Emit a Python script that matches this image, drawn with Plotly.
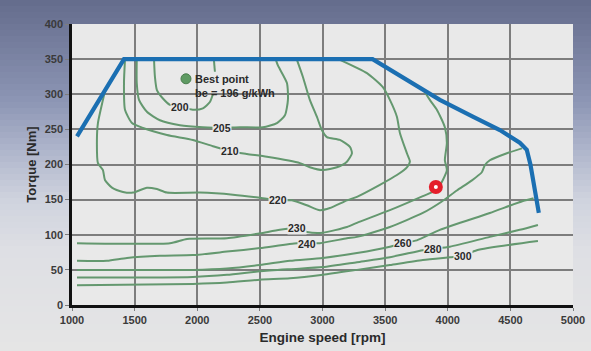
import plotly.graph_objects as go

# ---------------- data ----------------
full_load_rpm = [1040, 1415, 3400, 3937, 4200, 4416, 4575, 4631, 4660, 4695, 4727]
full_load_nm = [240, 350, 350, 292, 268, 249, 231, 221, 200, 168, 131]

c200_rpm = [1655, 1662, 1678, 1726, 1782, 1862, 1965, 2045, 2101, 2125, None, 2141, 2133]
c200_nm = [349, 325, 306, 294, 285, 282, 278, 280, 289, 300, None, 332, 349]

c205_rpm = [1517, 1517, 1535, 1598, 1702, 1862, 2045, 2197, 2341, 2524, 2636, 2700, 2724, 2716, 2644, 2628]
c205_nm = [349, 316, 292, 275, 263, 256, 253, 252, 253, 253, 259, 270, 292, 316, 341, 349]

c210_rpm = [1423, 1415, 1423, 1479, 1567, 1758, 1965, 2125, 2261, 2397, 2556, 2820, 2899, 3003,
            3115, 3195, 3235, 3219, 3139, 3035, 2995, 2955, 2899, 2843, 2796]
c210_nm = [349, 316, 278, 259, 252, 242, 235, 226, 219, 215, 211, 202, 196, 192,
           196, 204, 216, 225, 235, 239, 249, 268, 292, 325, 349]

c220_rpm = [1265, 1247, 1207, 1199, 1207, 1247, 1263, 1319, 1407, 1487, 1598, 1678, 1758, 2021,
            2285, 2524, 2644, 2756, 2875, 2979, 3059, 3195, 3275, 3458, 3594, 3674, 3698, 3674,
            3618, 3594, 3538, 3482, 3355, 3139]
c220_nm = [306, 292, 259, 235, 202, 192, 178, 167, 161, 160, 167, 165, 160, 160,
           157, 152, 149, 149, 142, 135, 138, 149, 154, 171, 185, 196, 204, 216,
           245, 268, 292, 310, 330, 349]

c230_rpm = [1040, 1782, 1918, 2237, 2500, 2660, 2796, 2875, 3003, 3195, 3275, 3538, 3801,
            3913, 3961, 3993, 3977, 3993, 3977, 3913, 3857, 3810]
c230_nm = [88, 88, 94, 95, 102, 107, 109, 104, 103, 111, 117, 135, 155,
           164, 178, 192, 206, 231, 253, 278, 292, 305]

c240_rpm = [1040, 1279, 1439, 1702, 1965, 2237, 2500, 2796, 2875, 2979, 3195, 3275, 3538,
            3801, 3950, 4073, 4190, 4272, 4296, 4336, 4472, 4592]
c240_nm = [63, 63, 67, 70, 71, 76, 81, 88, 88, 88, 95, 97, 111,
           131, 147, 163, 177, 189, 199, 206, 216, 223]

c260_rpm = [1040, 1965, 2237, 2500, 2740, 3003, 3275, 3538, 3642, 3753, 3937, 4336, 4600, 4685]
c260_nm = [50, 50, 52, 57, 63, 67, 74, 83, 88, 92, 107, 131, 148, 152]

c280_rpm = [1040, 1965, 2237, 2500, 2740, 3003, 3275, 3538, 3801, 3881, 4017, 4336, 4575, 4720]
c280_nm = [39, 40, 43, 48, 51, 54, 61, 68, 78, 80, 83, 97, 107, 114]

c300_rpm = [1040, 1965, 2237, 2500, 2740, 3003, 3275, 3538, 3801, 4017, 4120, 4232, 4720]
c300_nm = [28, 30, 32, 36, 38, 43, 50, 57, 64, 68, 70, 78, 91]

contour_labels = ["200", "205", "210", "220", "230", "240", "260", "280", "300"]
label_rpm = [1862, 2197, 2261, 2644, 2796, 2875, 3642, 3881, 4120]
label_nm = [282, 252, 219, 149, 110, 87, 88, 80, 70]

best_rpm = [1910]
best_nm = [322]
op_rpm = [3905]
op_nm = [168]

x_ticks = [1000, 1500, 2000, 2500, 3000, 3500, 4000, 4500, 5000]
y_ticks = [0, 50, 100, 150, 200, 250, 300, 350, 400]

# ---------------- figure ----------------
GREEN = "#64986f"
BLUE = "#1b6fb2"
PLOTBG = "#e9e9e9"
GRID = "#7d7d7d"
FONT = "Liberation Sans"

fig = go.Figure()

contours = [(c200_rpm, c200_nm), (c205_rpm, c205_nm), (c210_rpm, c210_nm), (c220_rpm, c220_nm),
            (c230_rpm, c230_nm), (c240_rpm, c240_nm), (c260_rpm, c260_nm), (c280_rpm, c280_nm),
            (c300_rpm, c300_nm)]
for (xs, ys), name in zip(contours, contour_labels):
    fig.add_trace(go.Scatter(x=xs, y=ys, mode="lines", name=name,
                             line=dict(color=GREEN, width=2, shape="spline", smoothing=0.6),
                             connectgaps=False, hoverinfo="skip", showlegend=False))

fig.add_trace(go.Scatter(x=full_load_rpm, y=full_load_nm, mode="lines",
                         line=dict(color=BLUE, width=4.2), showlegend=False, hoverinfo="skip"))

fig.add_trace(go.Scatter(x=best_rpm, y=best_nm, mode="markers",
                         marker=dict(size=10, color="#5e9a62", line=dict(color="#4a7d4e", width=1)),
                         showlegend=False))
fig.add_trace(go.Scatter(x=op_rpm, y=op_nm, mode="markers",
                         marker=dict(size=14, color="#e41e2b", line=dict(width=0)),
                         showlegend=False))
fig.add_trace(go.Scatter(x=op_rpm, y=op_nm, mode="markers",
                         marker=dict(size=4, color="white", line=dict(width=0)),
                         showlegend=False))

annotations = []
for t, xv, yv in zip(contour_labels, label_rpm, label_nm):
    annotations.append(dict(x=xv, y=yv, xref="x", yref="y", text=t, showarrow=False,
                            font=dict(family=FONT, size=10.5, color="#2a2a2a", weight="bold"),
                            bgcolor=PLOTBG, borderpad=0))
annotations.append(dict(x=1970, y=322, xref="x", yref="y", text="Best point", showarrow=False,
                        xanchor="left", font=dict(family=FONT, size=11, color="#2a2a2a", weight="bold")))
annotations.append(dict(x=1970, y=302, xref="x", yref="y", text="be = 196 g/kWh", showarrow=False,
                        xanchor="left", font=dict(family=FONT, size=11, color="#2a2a2a", weight="bold")))

# background gradient bands (outside decoration)
W, H = 591, 351
L, R, T, B = 72, 18, 24, 46
pw, ph = W - L - R, H - T - B
stops = [(0, (100, 108, 140)), (40, (116, 124, 156)), (100, (140, 149, 180)),
         (150, (174, 181, 203)), (200, (207, 211, 222)), (250, (222, 223, 228)), (351, (229, 229, 229))]


def col_at(p):
    for (p0, c0), (p1, c1) in zip(stops[:-1], stops[1:]):
        if p0 <= p <= p1:
            f = (p - p0) / (p1 - p0)
            return "rgb(%d,%d,%d)" % tuple(round(a + (b - a) * f) for a, b in zip(c0, c1))
    return "rgb(229,229,229)"


shapes = []
step = 6
for p in range(0, H, step):
    shapes.append(dict(type="rect", xref="paper", yref="paper", layer="below",
                       x0=-L / pw - 0.02, x1=(W - L) / pw + 0.02,
                       y0=(H - B - (p + step + 1)) / ph, y1=(H - B - p) / ph,
                       fillcolor=col_at(p + step / 2), line=dict(width=0)))
shapes.append(dict(type="rect", xref="x", yref="y", layer="below", x0=1000, x1=5000, y0=0, y1=400,
                   fillcolor=PLOTBG, line=dict(width=0)))

fig.update_layout(
    width=W, height=H,
    margin=dict(l=L, r=R, t=T, b=B, autoexpand=False),
    paper_bgcolor="#e4e4e4", plot_bgcolor=PLOTBG,
    showlegend=False,
    shapes=shapes, annotations=annotations,
    font=dict(family=FONT),
)
fig.update_xaxes(range=[1000, 5000], tickvals=x_ticks, ticktext=[str(v) for v in x_ticks],
                 automargin=False,
                 showgrid=True, gridcolor=GRID, gridwidth=1.5,
                 showline=True, linecolor="#111111", linewidth=2.5,
                 ticks="outside", ticklen=3, tickcolor=GRID,
                 tickfont=dict(family=FONT, size=11, color="#3a3a3a", weight="bold"),
                 title=dict(text="Engine speed [rpm]", standoff=8,
                            font=dict(family=FONT, size=13.5, color="#2a2a2a", weight="bold")),
                 zeroline=False)
fig.update_yaxes(range=[0, 400], tickvals=y_ticks, ticktext=[str(v) for v in y_ticks],
                 automargin=False,
                 showgrid=True, gridcolor=GRID, gridwidth=1.5,
                 showline=True, linecolor="#111111", linewidth=2.5,
                 ticks="outside", ticklen=4, tickcolor=GRID,
                 tickfont=dict(family=FONT, size=11, color="#3a3a3a", weight="bold"),
                 title=dict(text="Torque [Nm]", standoff=6,
                            font=dict(family=FONT, size=13, color="#2a2a2a", weight="bold")),
                 zeroline=False)

fig.write_html("out.html", config={"displayModeBar": False},
               post_script="document.body.style.margin='0';document.body.style.padding='0';"
                           "document.body.style.overflow='hidden';")
